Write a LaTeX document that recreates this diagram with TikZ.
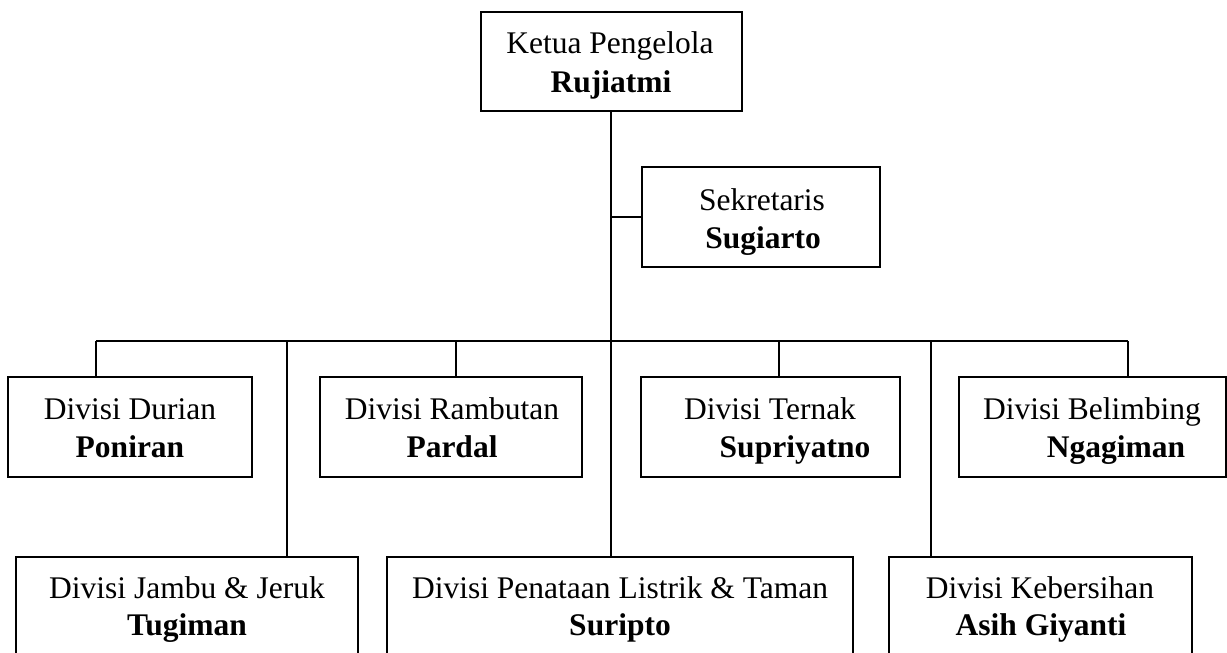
\documentclass[tikz,border=0pt]{standalone}
\usepackage{fontspec}
\setmainfont{Liberation Serif}
\begin{document}
\begin{tikzpicture}[x=1pt,y=-1pt,
  box/.style={draw, line width=2.6pt, inner sep=0pt, outer sep=0pt},
  conn/.style={line width=1.3pt},
  lbl/.style={anchor=base, inner sep=0pt, font=\fontsize{31.5}{38}\selectfont},
  nm/.style={anchor=base, inner sep=0pt, font=\fontsize{31.5}{38}\selectfont\bfseries}]
\useasboundingbox (0,0) rectangle (1227,653);
\clip (0,0) rectangle (1227,653);
\fill[white] (0,0) rectangle (1227,653);
% boxes
\node[box, minimum width=261pt, minimum height=99pt] (ketua) at (611.5,61.5) {};
\node[box, minimum width=238pt, minimum height=100pt] (sek) at (761,217) {};
\node[box, minimum width=244pt, minimum height=100pt] (durian) at (130,427) {};
\node[box, minimum width=262pt, minimum height=100pt] (rambutan) at (451,427) {};
\node[box, minimum width=259pt, minimum height=100pt] (ternak) at (770.5,427) {};
\node[box, minimum width=267pt, minimum height=100pt] (belimbing) at (1092.5,427) {};
\node[box, minimum width=342pt, minimum height=123pt] (jambu) at (187,618.5) {};
\node[box, minimum width=466pt, minimum height=123pt] (penataan) at (620,618.5) {};
\node[box, minimum width=303pt, minimum height=123pt] (kebersihan) at (1040.5,618.5) {};
% texts
\node[lbl] (t1a) at (610,53) {Ketua Pengelola};
\node[nm]  (t1b) at (611,92) {Rujiatmi};
\node[lbl] (t2a) at (762,210) {Sekretaris};
\node[nm]  (t2b) at (763,248) {Sugiarto};
\node[lbl] (t3a) at (130,419) {Divisi Durian};
\node[nm]  (t3b) at (130,457) {Poniran};
\node[lbl] (t4a) at (452,419) {Divisi Rambutan};
\node[nm]  (t4b) at (452,457) {Pardal};
\node[lbl] (t5a) at (770,419) {Divisi Ternak};
\node[nm]  (t5b) at (795,457) {Supriyatno};
\node[lbl] (t6a) at (1092,419) {Divisi Belimbing};
\node[nm]  (t6b) at (1116,457) {Ngagiman};
\node[lbl] (t7a) at (187,598) {Divisi Jambu \& Jeruk};
\node[nm]  (t7b) at (187,635) {Tugiman};
\node[lbl] (t8a) at (620,598) {Divisi Penataan Listrik \& Taman};
\node[nm]  (t8b) at (620,635) {Suripto};
\node[lbl] (t9a) at (1040,598) {Divisi Kebersihan};
\node[nm]  (t9b) at (1041,635) {Asih Giyanti};
% connector coordinates
\coordinate (trunk) at (611,111);
\coordinate (busL) at (96,341);
\coordinate (busR) at (1128,341);
\coordinate (dRam) at (456,341);
\coordinate (dTer) at (779,341);
\coordinate (dJam) at (287,341);
\coordinate (dKeb) at (931,341);
% connectors
\draw[conn] (trunk) -- (trunk |- penataan.north);
\draw[conn] (sek.west) -- (trunk |- sek.west);
\draw[conn] (busL) -- (busR);
\draw[conn] (busL) -- (busL |- durian.north);
\draw[conn] (dRam) -- (dRam |- rambutan.north);
\draw[conn] (dTer) -- (dTer |- ternak.north);
\draw[conn] (busR) -- (busR |- belimbing.north);
\draw[conn] (dJam) -- (dJam |- jambu.north);
\draw[conn] (dKeb) -- (dKeb |- kebersihan.north);
\end{tikzpicture}
\end{document}
